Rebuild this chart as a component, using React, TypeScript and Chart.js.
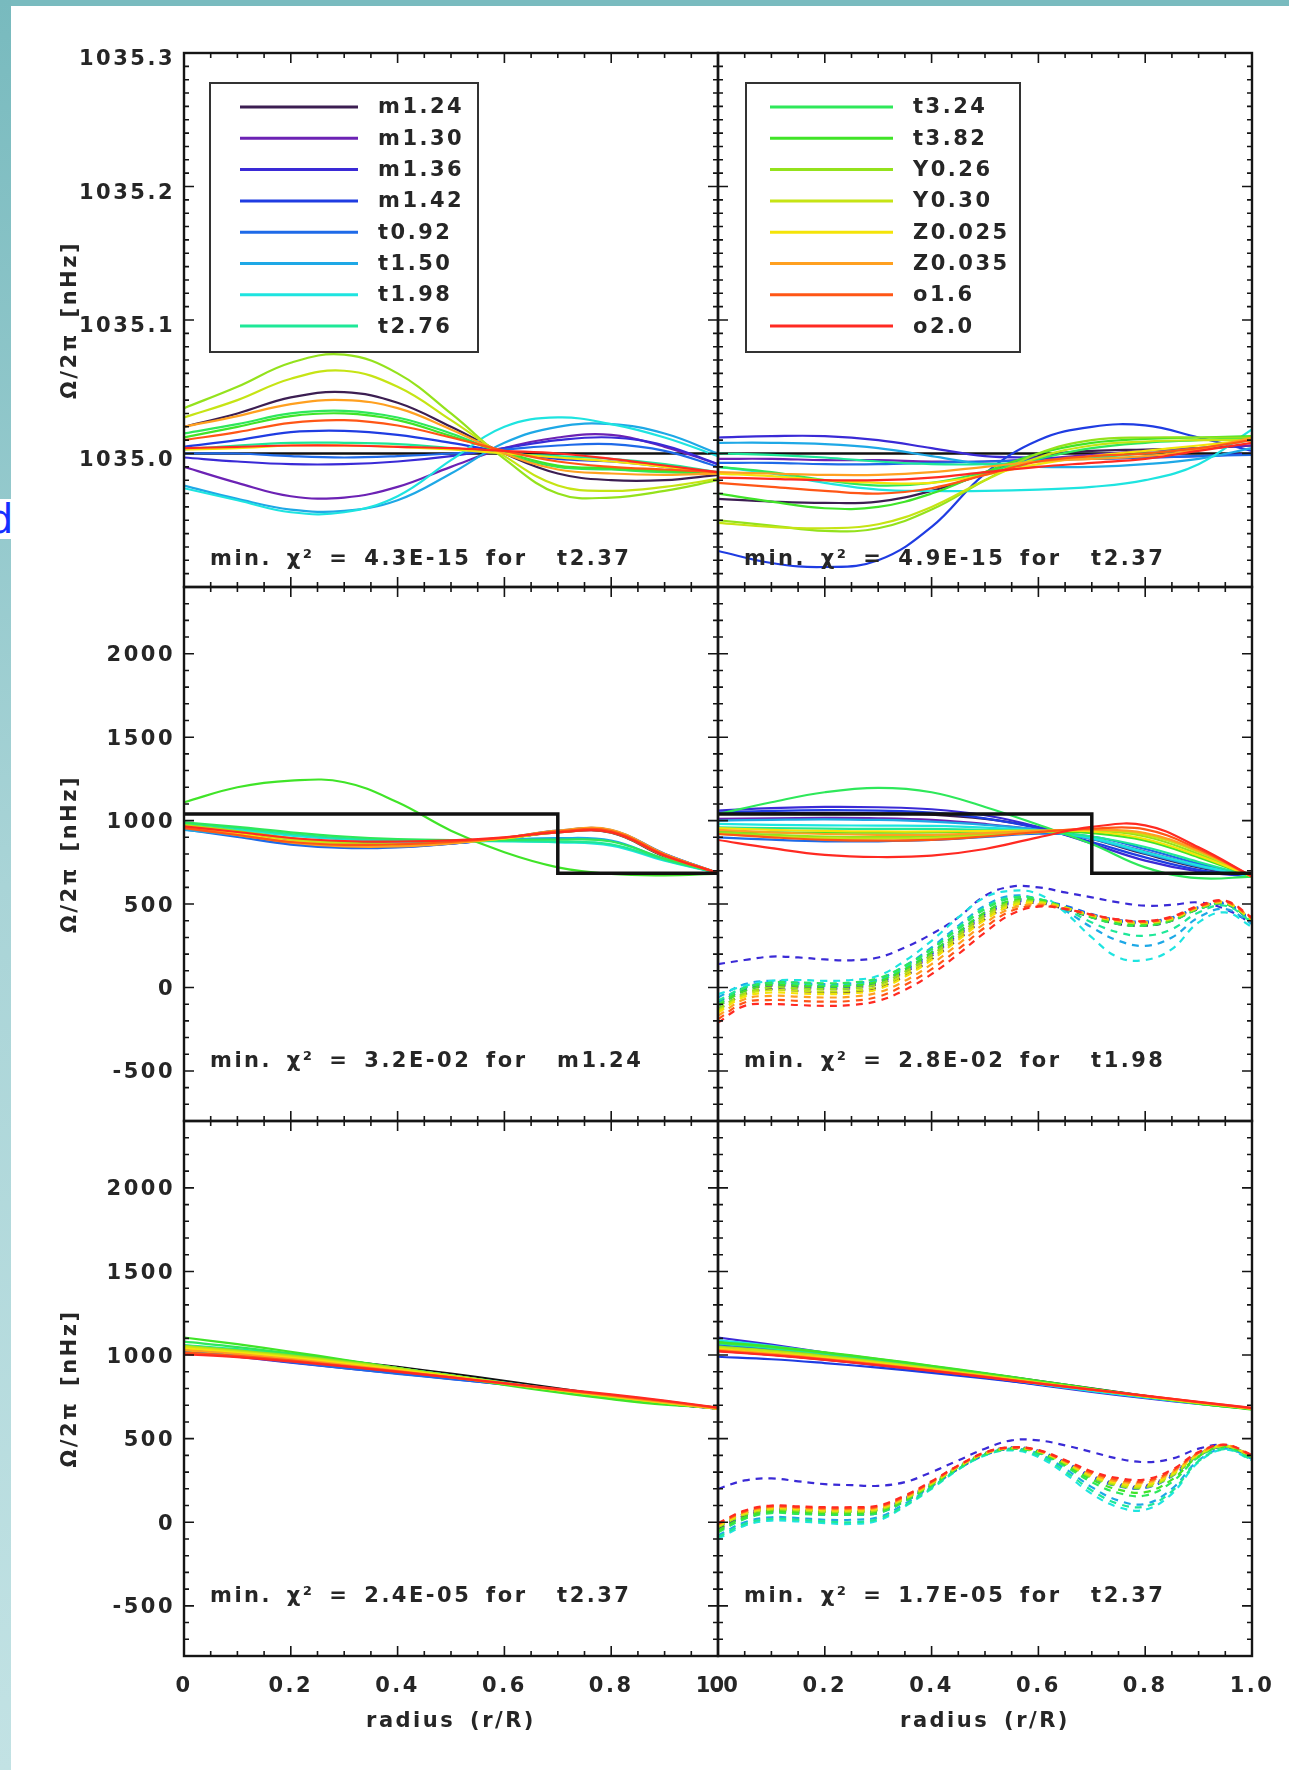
import { useEffect, useRef } from 'react';
import { Chart, registerables } from 'chart.js';

Chart.register(...registerables);

const FONT_FAMILY = '"DejaVu Sans", "Liberation Sans", sans-serif';
const FONT_SIZE = 21;
const FONT_WEIGHT = 'bold';
const TEXT_COLOR = '#262626';
const LETTER_SPACING = '2.5px';
const WORD_SPACING = '5px';

// Stellar model grid shown in the legends
const MODELS = ['m1.24', 'm1.30', 'm1.36', 'm1.42', 't0.92', 't1.50', 't1.98', 't2.76',
  't3.24', 't3.82', 'Y0.26', 'Y0.30', 'Z0.025', 'Z0.035', 'o1.6', 'o2.0'];
const COLORS = ['#3c1e52', '#6c22b4', '#3a2ad6', '#1f3ce2', '#1e6ae8', '#1ea8e6', '#1ee4e0', '#1ee898',
  '#2ee85a', '#40e428', '#94e21c', '#c6e414', '#f4e408', '#ffa020', '#ff5616', '#ff2a22'];

// Radius grids (r/R)
const R11 = [0, 0.1, 0.2, 0.3, 0.4, 0.5, 0.6, 0.7, 0.8, 0.9, 1.0];
const R21 = [0, 0.05, 0.1, 0.15, 0.2, 0.25, 0.3, 0.35, 0.4, 0.45, 0.5, 0.55, 0.6, 0.65, 0.7, 0.75, 0.8, 0.85, 0.9, 0.95, 1.0];

// Axis ticks
const X_TICKS = [0, 0.2, 0.4, 0.6, 0.8, 1.0];
const TOP_Y_TICKS = [1035.0, 1035.1, 1035.2, 1035.3];
const ROT_Y_TICKS = [-500, 0, 500, 1000, 1500, 2000];

// Input rotation profiles
const FLAT_R = [0, 1];
const FLAT_OMEGA = [1035.0, 1035.0];
const STEP_R = [0, 0.7, 0.7, 1.0];
const STEP_OMEGA = [1040, 1040, 685, 685];
const SMOOTH_OMEGA = [1045, 1025, 998, 965, 928, 888, 845, 800, 755, 712, 680];

// Inverted profiles, solid-body case (nHz), one row per model, on R11
const TOP_LEFT = [
  [1035.020, 1035.030, 1035.042, 1035.046, 1035.038, 1035.020, 1035.000, 1034.985, 1034.980, 1034.980, 1034.984],
  [1034.990, 1034.978, 1034.968, 1034.967, 1034.975, 1034.990, 1035.004, 1035.012, 1035.014, 1035.005, 1034.992],
  [1034.997, 1034.994, 1034.992, 1034.992, 1034.994, 1034.998, 1035.004, 1035.010, 1035.012, 1035.006, 1034.992],
  [1035.005, 1035.010, 1035.016, 1035.017, 1035.014, 1035.008, 1035.001, 1034.996, 1034.994, 1034.990, 1034.985],
  [1035.000, 1035.000, 1034.998, 1034.997, 1034.998, 1035.000, 1035.003, 1035.006, 1035.007, 1035.002, 1034.990],
  [1034.976, 1034.966, 1034.958, 1034.957, 1034.965, 1034.985, 1035.008, 1035.020, 1035.022, 1035.015, 1035.000],
  [1034.974, 1034.965, 1034.956, 1034.956, 1034.968, 1034.995, 1035.020, 1035.027, 1035.022, 1035.012, 1034.998],
  [1035.003, 1035.006, 1035.008, 1035.008, 1035.007, 1035.004, 1035.000, 1034.998, 1034.996, 1034.992, 1034.986],
  [1035.015, 1035.022, 1035.030, 1035.032, 1035.027, 1035.015, 1035.000, 1034.990, 1034.988, 1034.986, 1034.985],
  [1035.012, 1035.020, 1035.028, 1035.030, 1035.025, 1035.013, 1035.001, 1034.991, 1034.989, 1034.987, 1034.986],
  [1035.034, 1035.050, 1035.068, 1035.074, 1035.060, 1035.030, 1034.996, 1034.970, 1034.967, 1034.972, 1034.980],
  [1035.027, 1035.040, 1035.056, 1035.062, 1035.050, 1035.025, 1034.998, 1034.976, 1034.972, 1034.975, 1034.981],
  [1035.003, 1035.004, 1035.006, 1035.006, 1035.005, 1035.003, 1035.000, 1034.997, 1034.994, 1034.990, 1034.985],
  [1035.020, 1035.028, 1035.037, 1035.040, 1035.034, 1035.018, 1035.000, 1034.988, 1034.985, 1034.984, 1034.985],
  [1035.010, 1035.016, 1035.023, 1035.025, 1035.021, 1035.012, 1035.002, 1034.994, 1034.990, 1034.988, 1034.986],
  [1035.004, 1035.005, 1035.006, 1035.006, 1035.005, 1035.004, 1035.002, 1035.000, 1034.996, 1034.991, 1034.986],
];

const TOP_RIGHT = [
  [1034.966, 1034.964, 1034.963, 1034.964, 1034.972, 1034.985, 1034.998, 1035.002, 1035.003, 1035.004, 1035.006],
  [1034.996, 1034.996, 1034.995, 1034.995, 1034.994, 1034.994, 1034.996, 1034.999, 1035.002, 1035.004, 1035.006],
  [1035.012, 1035.013, 1035.013, 1035.010, 1035.004, 1034.998, 1034.997, 1034.996, 1034.997, 1034.998, 1035.000],
  [1034.927, 1034.918, 1034.915, 1034.920, 1034.945, 1034.985, 1035.010, 1035.020, 1035.021, 1035.012, 1035.002],
  [1034.993, 1034.993, 1034.992, 1034.992, 1034.993, 1034.994, 1034.995, 1034.996, 1034.997, 1034.998, 1034.999],
  [1035.008, 1035.008, 1035.007, 1035.004, 1034.998, 1034.992, 1034.990, 1034.990, 1034.992, 1034.996, 1035.004],
  [1034.990, 1034.985, 1034.978, 1034.973, 1034.972, 1034.972, 1034.973, 1034.975, 1034.980, 1034.992, 1035.018],
  [1035.000, 1034.999, 1034.997, 1034.994, 1034.992, 1034.992, 1034.994, 1034.997, 1035.000, 1035.004, 1035.010],
  [1034.990, 1034.986, 1034.980, 1034.976, 1034.978, 1034.986, 1034.996, 1035.004, 1035.008, 1035.010, 1035.012],
  [1034.970, 1034.964, 1034.959, 1034.960, 1034.970, 1034.986, 1035.000, 1035.008, 1035.011, 1035.012, 1035.013],
  [1034.950, 1034.946, 1034.942, 1034.944, 1034.958, 1034.980, 1035.000, 1035.010, 1035.012, 1035.012, 1035.012],
  [1034.948, 1034.945, 1034.944, 1034.947, 1034.960, 1034.980, 1034.997, 1035.006, 1035.009, 1035.010, 1035.010],
  [1034.985, 1034.983, 1034.980, 1034.978, 1034.978, 1034.984, 1034.992, 1034.998, 1035.002, 1035.006, 1035.010],
  [1034.986, 1034.985, 1034.984, 1034.984, 1034.986, 1034.990, 1034.994, 1034.996, 1034.998, 1035.003, 1035.012],
  [1034.978, 1034.975, 1034.972, 1034.970, 1034.974, 1034.984, 1034.994, 1034.998, 1035.000, 1035.004, 1035.010],
  [1034.982, 1034.981, 1034.980, 1034.980, 1034.982, 1034.986, 1034.990, 1034.993, 1034.996, 1035.002, 1035.008],
];

// Inverted profiles, step-function case
const MID_LEFT = [
  [970, 935, 892, 868, 862, 872, 895, 930, 928, 785, 686],
  [965, 928, 885, 860, 856, 868, 893, 932, 932, 790, 686],
  [958, 918, 873, 850, 848, 864, 892, 934, 936, 795, 686],
  [952, 908, 862, 840, 842, 862, 893, 938, 940, 800, 686],
  [948, 902, 856, 836, 840, 862, 895, 940, 944, 802, 686],
  [945, 912, 876, 858, 858, 868, 884, 895, 880, 770, 686],
  [975, 945, 910, 888, 878, 876, 876, 870, 850, 760, 686],
  [985, 955, 920, 895, 884, 880, 878, 874, 858, 765, 686],
  [990, 962, 930, 905, 890, 884, 884, 886, 875, 772, 686],
  [1110, 1200, 1240, 1230, 1110, 940, 810, 720, 680, 672, 682],
  [975, 938, 895, 868, 860, 870, 893, 930, 930, 788, 686],
  [970, 932, 888, 862, 856, 868, 893, 932, 934, 792, 686],
  [965, 922, 876, 852, 850, 866, 894, 935, 938, 796, 686],
  [960, 915, 868, 845, 845, 864, 896, 940, 945, 800, 686],
  [955, 914, 872, 855, 858, 872, 898, 935, 938, 796, 686],
  [965, 932, 896, 878, 875, 882, 900, 930, 930, 790, 686],
];

const MID_RIGHT = [
  [1040, 1044, 1046, 1044, 1036, 1010, 960, 890, 800, 720, 665],
  [1010, 1014, 1016, 1014, 1004, 980, 945, 892, 815, 730, 665],
  [1060, 1075, 1082, 1080, 1068, 1032, 962, 862, 760, 695, 665],
  [1048, 1058, 1063, 1060, 1048, 1014, 955, 872, 780, 705, 665],
  [900, 886, 876, 876, 884, 902, 922, 905, 830, 742, 665],
  [1000, 1005, 1008, 1004, 994, 975, 945, 890, 805, 725, 665],
  [980, 975, 972, 970, 968, 958, 938, 895, 812, 732, 665],
  [960, 955, 952, 950, 950, 945, 935, 905, 842, 752, 665],
  [1040, 1110, 1170, 1196, 1170, 1082, 975, 860, 720, 655, 665],
  [935, 930, 928, 928, 930, 935, 938, 925, 880, 780, 665],
  [930, 915, 905, 902, 905, 918, 935, 940, 905, 800, 665],
  [920, 905, 895, 892, 896, 910, 930, 942, 915, 812, 665],
  [955, 945, 938, 935, 935, 938, 940, 935, 890, 790, 665],
  [945, 930, 920, 915, 915, 925, 938, 945, 925, 820, 665],
  [920, 900, 885, 880, 885, 905, 932, 952, 948, 830, 665],
  [884, 835, 795, 782, 790, 830, 900, 962, 972, 840, 665],
];

// Dashed profiles on R21
const MID_RIGHT_DASHED = [
  [-130, -40, -10, -20, -30, -25, 0, 70, 170, 290, 410, 490, 505, 470, 420, 380, 370, 400, 470, 500, 400],
  [-110, -20, 10, 0, -10, -5, 20, 90, 190, 310, 430, 505, 515, 480, 430, 395, 385, 410, 475, 505, 405],
  [140, 165, 185, 180, 168, 163, 180, 240, 320, 420, 550, 605, 600, 570, 540, 510, 490, 495, 510, 470, 385],
  [-100, -10, 20, 10, 0, 5, 30, 100, 200, 320, 440, 510, 520, 485, 435, 400, 390, 415, 480, 505, 400],
  [-90, 0, 30, 20, 10, 15, 40, 110, 210, 330, 450, 520, 525, 490, 440, 405, 395, 420, 480, 500, 395],
  [-60, 20, 40, 30, 20, 25, 50, 130, 240, 370, 490, 550, 530, 460, 360, 280, 250, 300, 420, 470, 380],
  [-40, 10, 40, 45, 40, 45, 70, 160, 280, 420, 540, 580, 560, 450, 300, 180, 165, 230, 390, 450, 363],
  [-80, 0, 25, 20, 10, 15, 40, 120, 230, 360, 480, 540, 530, 470, 390, 330, 310, 350, 450, 490, 390],
  [-100, -5, 30, 30, 25, 30, 55, 130, 230, 350, 470, 535, 530, 480, 420, 380, 370, 400, 470, 500, 400],
  [-110, -20, 15, 10, 5, 10, 35, 110, 210, 330, 450, 520, 520, 480, 425, 390, 380, 405, 475, 505, 405],
  [-130, -35, 0, -5, -10, -5, 20, 95, 195, 315, 435, 510, 515, 480, 430, 395, 385, 410, 475, 505, 405],
  [-140, -45, -15, -20, -25, -20, 5, 80, 180, 300, 420, 500, 510, 478, 432, 398, 388, 412, 478, 508, 408],
  [-150, -55, -30, -35, -40, -35, -10, 65, 165, 285, 405, 490, 505, 476, 432, 400, 390, 415, 480, 510, 410],
  [-170, -70, -50, -55, -60, -55, -30, 40, 140, 260, 385, 475, 498, 474, 434, 402, 392, 418, 482, 512, 412],
  [-190, -90, -75, -80, -85, -80, -55, 15, 110, 230, 360, 460, 490, 472, 435, 405, 395, 420, 485, 515, 415],
  [-210, -110, -100, -105, -110, -105, -80, -15, 80, 200, 330, 440, 485, 470, 437, 408, 398, 425, 490, 520, 420],
];

// Inverted profiles, smooth-gradient case
const BOT_LEFT = [
  [1045, 1025, 995, 960, 920, 878, 835, 790, 747, 710, 680],
  [1030, 1000, 965, 932, 898, 862, 826, 790, 755, 718, 680],
  [1020, 990, 955, 922, 890, 858, 825, 792, 758, 720, 682],
  [1035, 1008, 975, 940, 903, 866, 828, 791, 754, 716, 680],
  [1025, 995, 958, 922, 888, 856, 825, 793, 760, 722, 684],
  [1030, 1005, 975, 943, 908, 870, 832, 794, 756, 718, 682],
  [1050, 1025, 995, 960, 920, 878, 836, 794, 754, 716, 680],
  [1060, 1035, 1003, 965, 922, 878, 833, 790, 750, 714, 680],
  [1080, 1048, 1010, 968, 922, 875, 828, 783, 743, 708, 684],
  [1105, 1065, 1020, 972, 922, 872, 822, 776, 736, 704, 688],
  [1055, 1028, 998, 962, 922, 878, 834, 790, 750, 714, 680],
  [1050, 1022, 992, 957, 918, 876, 833, 790, 751, 715, 680],
  [1040, 1015, 985, 950, 912, 872, 830, 790, 752, 716, 680],
  [1030, 1006, 976, 942, 905, 868, 829, 791, 755, 718, 680],
  [1015, 995, 968, 936, 902, 866, 830, 794, 760, 724, 684],
  [1005, 988, 962, 932, 900, 866, 832, 798, 765, 728, 686],
];

const BOT_RIGHT = [
  [1040, 1022, 995, 962, 925, 885, 842, 797, 752, 712, 680],
  [1025, 1002, 972, 938, 902, 865, 827, 790, 754, 716, 680],
  [1105, 1062, 1015, 966, 916, 868, 822, 780, 742, 708, 678],
  [990, 975, 952, 925, 893, 860, 824, 788, 752, 714, 678],
  [1060, 1032, 998, 960, 920, 878, 835, 792, 752, 714, 678],
  [1080, 1046, 1006, 963, 918, 872, 827, 784, 746, 710, 678],
  [1090, 1055, 1013, 968, 921, 874, 828, 785, 747, 712, 680],
  [1070, 1042, 1008, 970, 929, 885, 840, 795, 752, 712, 680],
  [1075, 1048, 1014, 976, 934, 889, 843, 797, 752, 710, 676],
  [1078, 1050, 1016, 978, 936, 892, 846, 800, 754, 710, 674],
  [1050, 1026, 996, 961, 922, 880, 837, 794, 752, 714, 680],
  [1045, 1021, 991, 957, 919, 878, 836, 794, 753, 715, 680],
  [1035, 1012, 983, 950, 913, 874, 833, 793, 754, 716, 680],
  [1030, 1007, 978, 946, 910, 872, 832, 793, 755, 717, 680],
  [1025, 1002, 974, 942, 907, 870, 831, 793, 756, 719, 682],
  [1022, 999, 971, 939, 905, 868, 830, 793, 757, 720, 684],
];

const BOT_RIGHT_DASHED = [
  [-40, 40, 70, 60, 50, 50, 60, 130, 220, 320, 405, 440, 420, 350, 270, 220, 210, 280, 400, 450, 390],
  [-30, 50, 80, 70, 60, 60, 70, 140, 230, 330, 412, 445, 425, 355, 275, 225, 215, 285, 405, 455, 392],
  [200, 250, 262, 245, 228, 222, 218, 240, 300, 370, 440, 490, 490, 460, 420, 380, 360, 380, 440, 460, 390],
  [-20, 55, 85, 75, 65, 65, 75, 145, 235, 335, 415, 448, 428, 360, 280, 230, 220, 290, 408, 458, 394],
  [-50, 30, 60, 55, 45, 45, 55, 125, 215, 318, 402, 438, 418, 348, 265, 215, 205, 275, 398, 452, 392],
  [-80, 0, 30, 25, 15, 15, 30, 110, 210, 320, 405, 440, 410, 320, 210, 130, 110, 200, 370, 440, 380],
  [-100, -20, 10, 5, -5, -10, 10, 95, 200, 315, 400, 430, 390, 290, 170, 90, 75, 170, 360, 435, 370],
  [-90, -10, 20, 15, 5, 0, 20, 100, 205, 318, 402, 435, 400, 305, 190, 110, 95, 185, 365, 438, 375],
  [-60, 20, 55, 50, 45, 45, 55, 125, 220, 325, 408, 440, 415, 335, 240, 175, 160, 240, 390, 450, 388],
  [-50, 30, 65, 60, 55, 55, 65, 132, 225, 328, 410, 442, 420, 345, 255, 195, 180, 255, 395, 452, 390],
  [-30, 45, 75, 70, 62, 62, 72, 138, 228, 330, 410, 442, 422, 352, 268, 218, 208, 278, 400, 454, 392],
  [-25, 50, 80, 75, 68, 68, 78, 142, 232, 332, 412, 444, 424, 356, 274, 226, 216, 284, 404, 456, 394],
  [-20, 55, 85, 80, 72, 72, 82, 146, 235, 334, 413, 445, 426, 360, 280, 234, 224, 290, 408, 458, 396],
  [-15, 60, 90, 85, 78, 78, 88, 150, 238, 336, 414, 446, 428, 364, 288, 244, 236, 298, 412, 460, 398],
  [-10, 65, 95, 90, 84, 84, 94, 155, 242, 338, 416, 447, 430, 368, 296, 254, 246, 306, 416, 462, 400],
  [-5, 70, 100, 95, 90, 90, 100, 160, 246, 340, 418, 448, 432, 372, 304, 264, 256, 314, 420, 464, 402],
];

const CHI_LABELS = [
  'min. χ² = 4.3E-15 for  t2.37',
  'min. χ² = 4.9E-15 for  t2.37',
  'min. χ² = 3.2E-02 for  m1.24',
  'min. χ² = 2.8E-02 for  t1.98',
  'min. χ² = 2.4E-05 for  t2.37',
  'min. χ² = 1.7E-05 for  t2.37',
];

// Page geometry of the 3x2 panel grid
const PAGE_W = 1289;
const PAGE_H = 1770;
const COL_X = [184, 718, 1252];
const ROW_Y = [53, 587, 1121, 1656];
const Y_AXIS_W = 130;
const X_AXIS_H = 78;

type LegendDef = { from: number; to: number; boxX: number; boxW: number; lineX0: number; lineX1: number; textX: number };

type PanelDef = {
  row: number;
  col: number;
  yMin: number;
  yMax: number;
  yTicks: number[];
  yMinorStep: number;
  yMajorStep: number;
  yDecimals: number;
  yLabelShift: number;
  solid: number[][];
  dashed?: number[][];
  inputR: number[];
  inputV: number[];
  inputOnTop: boolean;
  chi: string;
  chiOffset: number;
  legend?: LegendDef;
};

const LEGEND_LEFT: LegendDef = { from: 0, to: 8, boxX: 26, boxW: 268, lineX0: 56, lineX1: 174, textX: 194 };
const LEGEND_RIGHT: LegendDef = { from: 8, to: 16, boxX: 28, boxW: 274, lineX0: 52, lineX1: 175, textX: 195 };

const PANELS: PanelDef[] = [
  { row: 0, col: 0, yMin: 1034.9, yMax: 1035.3, yTicks: TOP_Y_TICKS, yMinorStep: 0.01, yMajorStep: 0.1, yDecimals: 1, yLabelShift: 7,
    solid: TOP_LEFT, inputR: FLAT_R, inputV: FLAT_OMEGA, inputOnTop: false, chi: CHI_LABELS[0], chiOffset: 27, legend: LEGEND_LEFT },
  { row: 0, col: 1, yMin: 1034.9, yMax: 1035.3, yTicks: TOP_Y_TICKS, yMinorStep: 0.01, yMajorStep: 0.1, yDecimals: 1, yLabelShift: 7,
    solid: TOP_RIGHT, inputR: FLAT_R, inputV: FLAT_OMEGA, inputOnTop: false, chi: CHI_LABELS[1], chiOffset: 27, legend: LEGEND_RIGHT },
  { row: 1, col: 0, yMin: -800, yMax: 2400, yTicks: ROT_Y_TICKS, yMinorStep: 100, yMajorStep: 500, yDecimals: 0, yLabelShift: 2,
    solid: MID_LEFT, inputR: STEP_R, inputV: STEP_OMEGA, inputOnTop: true, chi: CHI_LABELS[2], chiOffset: 59 },
  { row: 1, col: 1, yMin: -800, yMax: 2400, yTicks: ROT_Y_TICKS, yMinorStep: 100, yMajorStep: 500, yDecimals: 0, yLabelShift: 2,
    solid: MID_RIGHT, dashed: MID_RIGHT_DASHED, inputR: STEP_R, inputV: STEP_OMEGA, inputOnTop: true, chi: CHI_LABELS[3], chiOffset: 59 },
  { row: 2, col: 0, yMin: -800, yMax: 2400, yTicks: ROT_Y_TICKS, yMinorStep: 100, yMajorStep: 500, yDecimals: 0, yLabelShift: 2,
    solid: BOT_LEFT, inputR: R11, inputV: SMOOTH_OMEGA, inputOnTop: false, chi: CHI_LABELS[4], chiOffset: 59 },
  { row: 2, col: 1, yMin: -800, yMax: 2400, yTicks: ROT_Y_TICKS, yMinorStep: 100, yMajorStep: 500, yDecimals: 0, yLabelShift: 2,
    solid: BOT_RIGHT, dashed: BOT_RIGHT_DASHED, inputR: R11, inputV: SMOOTH_OMEGA, inputOnTop: false, chi: CHI_LABELS[5], chiOffset: 59 },
];

const fontSpec = `${FONT_WEIGHT} ${FONT_SIZE}px ${FONT_FAMILY}`;
const axisFont = { family: FONT_FAMILY, size: FONT_SIZE, weight: FONT_WEIGHT };

function isMultiple(v: number, step: number) {
  const q = v / step;
  return Math.abs(q - Math.round(q)) < 1e-6;
}

function Panel({ def }: { def: PanelDef }) {
  const ref = useRef<HTMLCanvasElement | null>(null);

  useEffect(() => {
    const canvas = ref.current;
    if (!canvas) return;
    const isBottom = def.row === 2;
    const isLeft = def.col === 0;
    const areaL = COL_X[def.col];
    const areaR = COL_X[def.col + 1];
    const areaT = ROW_Y[def.row];
    const areaB = ROW_Y[def.row + 1];

    const datasets: any[] = [];
    datasets.push({
      label: 'input',
      data: def.inputR.map((r, i) => ({ x: r, y: def.inputV[i] })),
      borderColor: '#111111',
      borderWidth: def.inputOnTop ? 3.5 : 2.5,
      tension: def.inputR.length > 4 ? 0.4 : 0,
      pointRadius: 0,
      order: def.inputOnTop ? -1 : 200,
    });
    MODELS.forEach((m, i) => {
      datasets.push({
        label: m,
        data: R11.map((r, k) => ({ x: r, y: def.solid[i][k] })),
        borderColor: COLORS[i],
        borderWidth: 2.2,
        tension: 0.4,
        pointRadius: 0,
        order: 100 - i,
      });
    });
    if (def.dashed) {
      MODELS.forEach((m, i) => {
        datasets.push({
          label: m + ' (dashed)',
          data: R21.map((r, k) => ({ x: r, y: def.dashed![i][k] })),
          borderColor: COLORS[i],
          borderWidth: 2.2,
          borderDash: [7, 6],
          tension: 0.4,
          pointRadius: 0,
          order: 150 - i,
        });
      });
    }

    const spacingPlugin = {
      id: 'letterSpacing',
      beforeDraw(chart: any) {
        chart.ctx.letterSpacing = LETTER_SPACING;
        chart.ctx.wordSpacing = WORD_SPACING;
      },
    };

    // Box around the plot with inward major/minor ticks on all four sides
    const framePlugin = {
      id: 'frame',
      afterDatasetsDraw(chart: any) {
        const { ctx, chartArea: a, scales } = chart;
        const xs = scales.x;
        const ys = scales.y;
        ctx.save();
        ctx.strokeStyle = '#151515';
        ctx.lineWidth = 1.6;
        ctx.beginPath();
        for (let k = 0; k <= 20; k++) {
          const px = xs.getPixelForValue(k * 0.05);
          const len = k % 4 === 0 ? 10 : 5;
          ctx.moveTo(px, a.bottom);
          ctx.lineTo(px, a.bottom - len);
          ctx.moveTo(px, a.top);
          ctx.lineTo(px, a.top + len);
        }
        const nY = Math.round((def.yMax - def.yMin) / def.yMinorStep);
        for (let k = 0; k <= nY; k++) {
          const v = def.yMin + k * def.yMinorStep;
          const py = ys.getPixelForValue(v);
          const len = isMultiple(v, def.yMajorStep) ? 10 : 5;
          ctx.moveTo(a.left, py);
          ctx.lineTo(a.left + len, py);
          ctx.moveTo(a.right, py);
          ctx.lineTo(a.right - len, py);
        }
        ctx.stroke();
        ctx.lineWidth = 2.4;
        ctx.strokeRect(a.left, a.top, a.right - a.left, a.bottom - a.top);
        ctx.restore();
      },
    };

    // χ² note and the model legend box
    const notesPlugin = {
      id: 'notes',
      afterDraw(chart: any) {
        const { ctx, chartArea: a } = chart;
        ctx.save();
        ctx.letterSpacing = LETTER_SPACING;
        ctx.wordSpacing = WORD_SPACING;
        ctx.font = fontSpec;
        ctx.fillStyle = TEXT_COLOR;
        ctx.textAlign = 'left';
        ctx.textBaseline = 'middle';
        ctx.fillText(def.chi, a.left + 26, a.bottom - def.chiOffset);

        const lg = def.legend;
        if (lg) {
          const top = a.top + 30;
          const h = 269;
          ctx.fillStyle = '#ffffff';
          ctx.fillRect(a.left + lg.boxX, top, lg.boxW, h);
          ctx.strokeStyle = '#333333';
          ctx.lineWidth = 2;
          ctx.strokeRect(a.left + lg.boxX, top, lg.boxW, h);
          for (let i = lg.from; i < lg.to; i++) {
            const yy = top + 24 + (i - lg.from) * 31.3;
            ctx.strokeStyle = COLORS[i];
            ctx.lineWidth = 3;
            ctx.beginPath();
            ctx.moveTo(a.left + lg.lineX0, yy);
            ctx.lineTo(a.left + lg.lineX1, yy);
            ctx.stroke();
            ctx.fillStyle = TEXT_COLOR;
            ctx.fillText(MODELS[i], a.left + lg.textX, yy + 1);
          }
        }
        ctx.restore();
      },
    };

    const chart = new Chart(canvas, {
      type: 'line',
      data: { datasets },
      options: {
        responsive: false,
        animation: false,
        devicePixelRatio: 1,
        events: [],
        layout: {
          padding: {
            left: isLeft ? areaL - Y_AXIS_W : areaL,
            right: PAGE_W - areaR,
            top: areaT,
            bottom: isBottom ? PAGE_H - areaB - X_AXIS_H : PAGE_H - areaB,
          },
        },
        plugins: {
          legend: { display: false },
          tooltip: { enabled: false },
        },
        scales: {
          x: {
            type: 'linear',
            min: 0,
            max: 1,
            display: isBottom,
            grid: { display: false, drawTicks: false },
            border: { display: false },
            afterBuildTicks: (s: any) => {
              s.ticks = X_TICKS.map((v) => ({ value: v }));
            },
            afterFit: (s: any) => {
              s.height = isBottom ? X_AXIS_H : 0;
            },
            ticks: {
              autoSkip: false,
              maxRotation: 0,
              minRotation: 0,
              padding: 18,
              color: TEXT_COLOR,
              font: axisFont,
              callback: (v: any) => (Number(v) === 0 ? '0' : Number(v).toFixed(1)),
            },
            title: {
              display: true,
              text: 'radius (r/R)',
              color: TEXT_COLOR,
              font: axisFont,
              padding: { top: 0, bottom: 0 },
            },
          },
          y: {
            type: 'linear',
            min: def.yMin,
            max: def.yMax,
            display: isLeft,
            grid: { display: false, drawTicks: false },
            border: { display: false },
            afterBuildTicks: (s: any) => {
              s.ticks = def.yTicks.map((v) => ({ value: v }));
            },
            afterFit: (s: any) => {
              s.width = isLeft ? Y_AXIS_W : 0;
            },
            ticks: {
              padding: 9,
              labelOffset: def.yLabelShift,
              color: TEXT_COLOR,
              font: axisFont,
              callback: (v: any) => Number(v).toFixed(def.yDecimals),
            },
            title: {
              display: true,
              text: 'Ω/2π [nHz]',
              color: TEXT_COLOR,
              font: axisFont,
              padding: { top: 4, bottom: 4 },
            },
          },
        },
      } as any,
      plugins: [spacingPlugin, framePlugin, notesPlugin],
    });

    return () => chart.destroy();
  }, [def]);

  return (
    <canvas
      ref={ref}
      width={PAGE_W}
      height={PAGE_H}
      style={{ position: 'absolute', left: 0, top: 0, width: PAGE_W, height: PAGE_H }}
    />
  );
}

export default function App() {
  return (
    <div
      style={{
        position: 'absolute',
        left: 0,
        top: 0,
        width: PAGE_W,
        height: PAGE_H,
        background: '#ffffff',
        overflow: 'hidden',
      }}
    >
      <div style={{ position: 'absolute', left: 0, top: 0, width: PAGE_W, height: 6, background: '#79bbbf' }} />
      <div
        style={{
          position: 'absolute',
          left: 0,
          top: 0,
          width: 11,
          height: PAGE_H,
          background: 'linear-gradient(#78babe, #a9d4d7 50%, #c2e2e4)',
        }}
      />
      <div
        style={{
          position: 'absolute',
          left: 0,
          top: 499,
          width: 11,
          height: 40,
          overflow: 'hidden',
          background: '#ffffff',
        }}
      >
        <span
          style={{
            position: 'absolute',
            left: -12,
            top: 0,
            font: `40px ${FONT_FAMILY}`,
            lineHeight: '40px',
            color: '#1530ff',
          }}
        >
          d
        </span>
      </div>
      {PANELS.map((p, i) => (
        <Panel key={i} def={p} />
      ))}
    </div>
  );
}
